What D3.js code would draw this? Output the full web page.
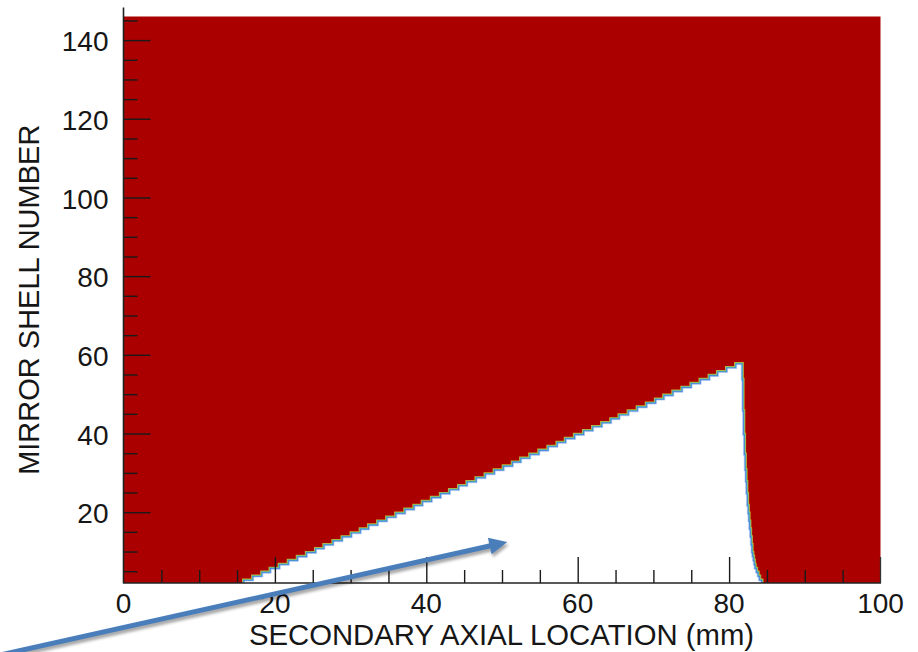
<!DOCTYPE html>
<html>
<head>
<meta charset="utf-8">
<script src="https://cdn.jsdelivr.net/npm/d3@7/dist/d3.min.js"></script>
<style>
  html, body { margin: 0; padding: 0; background: #ffffff; }
  svg { display: block; }
  text { font-family: "Liberation Sans", Arial, Helvetica, sans-serif; fill: #161616; }
</style>
</head>
<body>
<svg id="chart" width="918" height="652"></svg>
<script>
// Mirror shells (rows) that are unobstructed over part of the secondary axial range
const shells = [2, 3, 4, 5, 6, 7, 8, 9, 10, 11, 12, 13, 14, 15, 16, 17, 18, 19, 20,
  21, 22, 23, 24, 25, 26, 27, 28, 29, 30, 31, 32, 33, 34, 35, 36, 37, 38, 39, 40,
  41, 42, 43, 44, 45, 46, 47, 48, 49, 50, 51, 52, 53, 54, 55, 56, 57];

// Axial location (mm) where the clear region begins for each shell
const clearStart = [16.0, 17.2, 18.4, 19.5, 20.7, 21.9, 23.1, 24.3, 25.5, 26.6, 27.8,
  29.0, 30.2, 31.4, 32.5, 33.7, 34.9, 36.1, 37.3, 38.5, 39.6, 40.8, 42.0, 43.2, 44.4,
  45.5, 46.7, 47.9, 49.1, 50.3, 51.5, 52.6, 53.8, 55.0, 56.2, 57.4, 58.5, 59.7, 60.9,
  62.1, 63.3, 64.5, 65.6, 66.8, 68.0, 69.2, 70.4, 71.5, 72.7, 73.9, 75.1, 76.3, 77.5,
  78.6, 79.8, 81.0];

// Axial location (mm) where the clear region ends for each shell
const clearEnd = [84.2, 83.9, 83.7, 83.5, 83.3, 83.2, 83.1, 83.0, 82.9, 82.9, 82.8,
  82.8, 82.7, 82.7, 82.6, 82.6, 82.5, 82.5, 82.4, 82.4, 82.3, 82.3, 82.3, 82.2, 82.2,
  82.2, 82.1, 82.1, 82.1, 82.0, 82.0, 82.0, 82.0, 81.9, 81.9, 81.9, 81.9, 81.9, 81.8,
  81.8, 81.8, 81.8, 81.8, 81.8, 81.7, 81.7, 81.7, 81.7, 81.7, 81.7, 81.7, 81.7, 81.6,
  81.6, 81.6, 81.6];

const xDomain = [0, 100];
const yDomain = [2, 146];
const xMajorTicks = [0, 20, 40, 60, 80, 100];
const yMajorTicks = [20, 40, 60, 80, 100, 120, 140];
const xTitle = "SECONDARY AXIAL LOCATION (mm)";
const yTitle = "MIRROR SHELL NUMBER";

// Pointer annotation, in data units: tail and tip
const pointerTail = [-17.0, -16.6];
const pointerTip = [50.7, 12.4];

const W = 918, H = 652;
const margin = { top: 16.5, right: 37.5, bottom: 69, left: 123.5 };

const svg = d3.select("#chart");
const x = d3.scaleLinear().domain(xDomain).range([margin.left, W - margin.right]);
const y = d3.scaleLinear().domain(yDomain).range([H - margin.bottom, margin.top]);

const defs = svg.append("defs");
defs.append("clipPath").attr("id", "plotClip")
  .append("rect")
  .attr("x", x(xDomain[0])).attr("y", y(yDomain[1]))
  .attr("width", x(xDomain[1]) - x(xDomain[0]))
  .attr("height", y(yDomain[0]) - y(yDomain[1]));
defs.append("filter").attr("id", "shadow")
  .attr("x", "-10%").attr("y", "-50%").attr("width", "120%").attr("height", "200%")
  .append("feGaussianBlur").attr("stdDeviation", 1.6);

// Obstructed field
svg.append("rect")
  .attr("x", x(xDomain[0])).attr("y", y(yDomain[1]))
  .attr("width", x(xDomain[1]) - x(xDomain[0]))
  .attr("height", y(yDomain[0]) - y(yDomain[1]))
  .attr("fill", "#aa0000");

// Clear region outline: staircase up the left side, across the top, down the right
const rows = shells.map((s, i) => ({
  lo: Math.max(s - 0.5, yDomain[0]),
  hi: s + 0.5,
  xs: clearStart[i],
  xe: clearEnd[i]
}));
const edgePts = [];
rows.forEach(r => { edgePts.push([r.xs, r.lo]); edgePts.push([r.xs, r.hi]); });
for (let i = rows.length - 1; i >= 0; i--) {
  edgePts.push([rows[i].xe, rows[i].hi]);
  edgePts.push([rows[i].xe, rows[i].lo]);
}
const line = d3.line().x(d => x(d[0])).y(d => y(d[1]));

const field = svg.append("g").attr("clip-path", "url(#plotClip)");
// contour fringe between the two levels
[["#c8b030", 5.2], ["#58c0a0", 3.8], ["#3c7ee0", 2.3]].forEach(([c, w]) => {
  field.append("path").attr("d", line(edgePts))
    .attr("fill", "none").attr("stroke", c).attr("stroke-width", w)
    .attr("stroke-linejoin", "miter");
});
field.append("path").attr("d", line(edgePts) + "Z").attr("fill", "#ffffff");
field.append("path").attr("d", line(edgePts))
  .attr("fill", "none").attr("stroke", "#aac4f2").attr("stroke-width", 1.0)
  .attr("stroke-opacity", 0.7);

// Ticks drawn inward over the field
const tickColor = "#1a1a1a";
const xMinor = d3.range(5, 100, 5).filter(v => v % 20 !== 0);
const yMinor = d3.range(5, 146, 5).filter(v => v % 20 !== 0);

const gx = svg.append("g").attr("transform", `translate(0,${y(yDomain[0])})`);
gx.call(d3.axisTop(x).tickValues(xMajorTicks.filter(v => v > 0 && v < 100))
  .tickSize(26).tickFormat(""));
gx.append("g").call(d3.axisTop(x).tickValues(xMinor).tickSize(13).tickFormat(""));
gx.selectAll(".domain").remove();
gx.selectAll("line").attr("stroke", tickColor).attr("stroke-width", 1.4);

const gy = svg.append("g").attr("transform", `translate(${x(xDomain[0])},0)`);
gy.call(d3.axisRight(y).tickValues(yMajorTicks).tickSize(27).tickFormat(""));
gy.append("g").call(d3.axisRight(y).tickValues(yMinor).tickSize(14).tickFormat(""));
gy.selectAll(".domain").remove();
gy.selectAll("line").attr("stroke", tickColor).attr("stroke-width", 1.4);

// Axis lines
svg.append("line")
  .attr("x1", x(xDomain[0])).attr("x2", x(xDomain[0]))
  .attr("y1", y(yDomain[1]) - 9).attr("y2", y(yDomain[0]) + 0.5)
  .attr("stroke", "#222").attr("stroke-width", 1.6);
svg.append("line")
  .attr("x1", x(xDomain[0])).attr("x2", x(xDomain[1]) + 0.5)
  .attr("y1", y(yDomain[0])).attr("y2", y(yDomain[0]))
  .attr("stroke", "#222").attr("stroke-width", 1.6);
svg.append("line")
  .attr("x1", x(xDomain[1])).attr("x2", x(xDomain[1]))
  .attr("y1", y(yDomain[0]) - 26).attr("y2", y(yDomain[0]))
  .attr("stroke", "#333").attr("stroke-width", 1.3);

// Tick labels
svg.append("g").selectAll("text").data(xMajorTicks).join("text")
  .attr("x", d => x(d)).attr("y", y(yDomain[0]) + 30)
  .attr("text-anchor", "middle").attr("font-size", 28)
  .text(d => d);
svg.append("g").selectAll("text").data(yMajorTicks).join("text")
  .attr("x", x(xDomain[0]) - 15).attr("y", d => y(d))
  .attr("dy", "0.4em")
  .attr("text-anchor", "end").attr("font-size", 28)
  .text(d => d);

// Axis titles
svg.append("text")
  .attr("x", (x(xDomain[0]) + x(xDomain[1])) / 2 - 0.5).attr("y", 645)
  .attr("text-anchor", "middle").attr("font-size", 29.3)
  .text(xTitle);
svg.append("text")
  .attr("transform", `translate(38.5,${(y(yDomain[0]) + y(yDomain[1])) / 2})rotate(-90)`)
  .attr("text-anchor", "middle").attr("font-size", 29)
  .text(yTitle);

// Pointer arrow into the clear region
const tx = x(pointerTail[0]), ty = y(pointerTail[1]);
const hx = x(pointerTip[0]), hy = y(pointerTip[1]);
const ang = Math.atan2(hy - ty, hx - tx);
const headLen = 18, headHalf = 8.5;
const bx = hx - headLen * Math.cos(ang), by = hy - headLen * Math.sin(ang);
const px = -Math.sin(ang), py = Math.cos(ang);
const headPts = [[hx, hy], [bx + px * headHalf, by + py * headHalf], [bx - px * headHalf, by - py * headHalf]];

function drawArrow(g, color) {
  g.append("line")
    .attr("x1", tx).attr("y1", ty).attr("x2", bx + 2 * Math.cos(ang)).attr("y2", by + 2 * Math.sin(ang))
    .attr("stroke", color).attr("stroke-width", 5);
  g.append("polygon").attr("points", headPts.map(p => p.join(",")).join(" "))
    .attr("fill", color);
}
const shadowG = svg.append("g")
  .attr("transform", "translate(1.5,3)")
  .attr("filter", "url(#shadow)").attr("opacity", 0.35);
drawArrow(shadowG, "#000000");
drawArrow(svg.append("g"), "#4a7ebb");
</script>
</body>
</html>
